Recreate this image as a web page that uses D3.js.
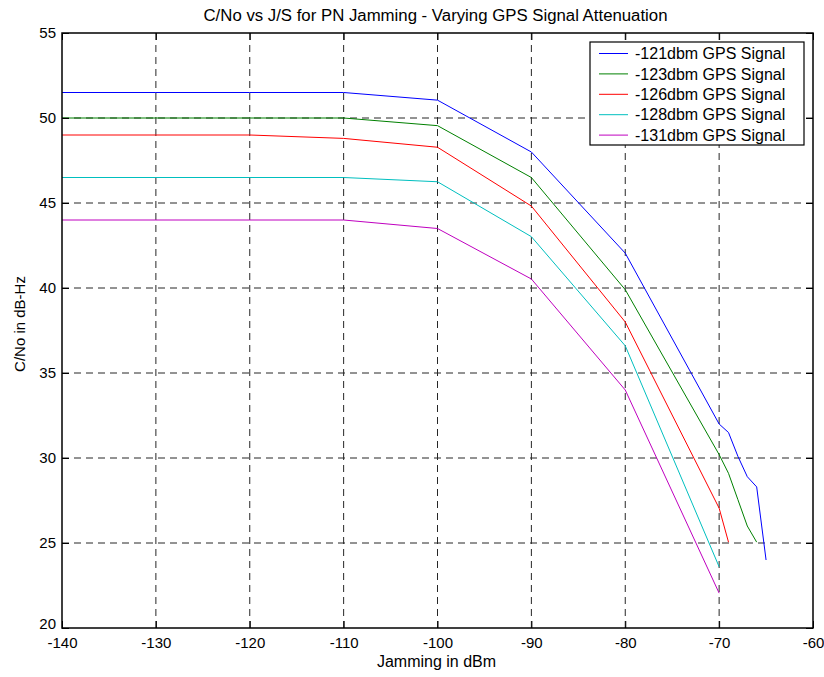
<!DOCTYPE html>
<html>
<head>
<meta charset="utf-8">
<script src="https://cdn.jsdelivr.net/npm/d3@7"></script>
<style>
  body { margin: 0; background: #ffffff; }
  svg { display: block; }
  text { font-family: "Liberation Sans", Arial, sans-serif; fill: #000; }
</style>
</head>
<body>
<svg id="chart" width="824" height="677"></svg>
<script>
// ---- Data ----
const chartTitle = "C/No vs J/S for PN Jamming - Varying GPS Signal Attenuation";
const xLabel = "Jamming in dBm";
const yLabel = "C/No in dB-Hz";
const xTicks = [-140, -130, -120, -110, -100, -90, -80, -70, -60];
const yTicks = [20, 25, 30, 35, 40, 45, 50, 55];

const seriesNames = ["-121dbm GPS Signal", "-123dbm GPS Signal", "-126dbm GPS Signal", "-128dbm GPS Signal", "-131dbm GPS Signal"];
const seriesColors = ["#0000ff", "#008000", "#ff0000", "#00bfbf", "#bf00bf"];

const jam121 = [-140, -130, -120, -110, -100, -90, -80, -70, -69, -68, -67, -66, -65];
const cno121 = [51.5, 51.5, 51.5, 51.5, 51.05, 48.0, 42.05, 32.0, 31.5, 30.1, 28.9, 28.3, 24.0];

const jam123 = [-140, -130, -120, -110, -100, -90, -80, -70, -69, -68, -67, -66];
const cno123 = [50.0, 50.0, 50.0, 50.0, 49.55, 46.5, 39.9, 30.2, 29.1, 27.55, 26.0, 25.05];

const jam126 = [-140, -130, -120, -110, -100, -90, -80, -70, -69];
const cno126 = [49.0, 49.0, 49.0, 48.8, 48.28, 44.82, 38.0, 27.05, 25.05];

const jam128 = [-140, -130, -120, -110, -100, -90, -80, -70];
const cno128 = [46.5, 46.5, 46.5, 46.5, 46.25, 43.02, 36.6, 23.6];

const jam131 = [-140, -130, -120, -110, -100, -90, -80, -70];
const cno131 = [44.0, 44.0, 44.0, 44.0, 43.5, 40.53, 34.0, 22.05];

const seriesX = [jam121, jam123, jam126, jam128, jam131];
const seriesY = [cno121, cno123, cno126, cno128, cno131];

// ---- Layout ----
const svg = d3.select("#chart");
const L = 62, R = 813, T = 33, B = 628;

const x = d3.scaleLinear().domain([-140, -60]).range([L, R]);
const y = d3.scaleLinear().domain([20, 55]).range([B, T]);

// grid
const grid = svg.append("g").attr("class", "grid");
grid.selectAll("line.gx").data(xTicks.slice(1, -1)).enter().append("line")
  .attr("x1", d => x(d)).attr("x2", d => x(d)).attr("y1", T).attr("y2", B)
  .attr("stroke", "#262626").attr("stroke-width", 1).attr("stroke-dasharray", "7,5");
grid.selectAll("line.gy").data(yTicks.slice(1, -1)).enter().append("line")
  .attr("x1", L).attr("x2", R).attr("y1", d => y(d)).attr("y2", d => y(d))
  .attr("stroke", "#262626").attr("stroke-width", 1).attr("stroke-dasharray", "7,5");

// series lines
const line = d3.line().x(d => x(d[0])).y(d => y(d[1]));
seriesX.forEach((xs, i) => {
  const pts = xs.map((v, j) => [v, seriesY[i][j]]);
  svg.append("path").datum(pts).attr("d", line)
    .attr("fill", "none").attr("stroke", seriesColors[i]).attr("stroke-width", 1);
});

// axes (MATLAB style: box with inward ticks)
const tickLen = 7;
const fmt = d => String(d);
const xAxisB = d3.axisBottom(x).tickValues(xTicks).tickSize(-tickLen).tickPadding(9).tickFormat(fmt);
const gxb = svg.append("g").attr("transform", `translate(0,${B})`).call(xAxisB);
const xAxisT = d3.axisTop(x).tickValues(xTicks).tickSize(-tickLen).tickFormat("");
const gxt = svg.append("g").attr("transform", `translate(0,${T})`).call(xAxisT);
const yAxisL = d3.axisLeft(y).tickValues(yTicks).tickSize(-tickLen).tickPadding(6).tickFormat(fmt);
const gyl = svg.append("g").attr("transform", `translate(${L},0)`).call(yAxisL);
const yAxisR = d3.axisRight(y).tickValues(yTicks).tickSize(-tickLen).tickFormat("");
const gyr = svg.append("g").attr("transform", `translate(${R},0)`).call(yAxisR);

[gxb, gxt, gyl, gyr].forEach(g => {
  g.select(".domain").remove();
  g.selectAll(".tick line").attr("stroke", "#000");
  g.selectAll("text").attr("font-family", "Liberation Sans, Arial, sans-serif").attr("font-size", 15).attr("fill", "#000");
});
// nudge the bottom-most y label up slightly so it doesn't collide with "-140"
gyl.selectAll(".tick text").filter(d => d === 20).attr("dy", "0.05em");

svg.append("rect").attr("x", L).attr("y", T).attr("width", R - L).attr("height", B - T)
  .attr("fill", "none").attr("stroke", "#000").attr("stroke-width", 1.5);

// title & labels
svg.append("text").attr("x", (L + R) / 2 - 2).attr("y", 21).attr("text-anchor", "middle")
  .attr("font-size", 16).attr("textLength", 464).attr("lengthAdjust", "spacingAndGlyphs").text(chartTitle);
svg.append("text").attr("x", (L + R) / 2 - 1).attr("y", 667).attr("text-anchor", "middle")
  .attr("font-size", 16).text(xLabel);
svg.append("text").attr("transform", `translate(25,324) rotate(-90)`).attr("text-anchor", "middle")
  .attr("font-size", 15).text(yLabel);

// legend
const lg = svg.append("g");
const lgX = 590, lgY = 42, lgW = 214, lgH = 103;
lg.append("rect").attr("x", lgX).attr("y", lgY).attr("width", lgW).attr("height", lgH)
  .attr("fill", "#fff").attr("stroke", "#000").attr("stroke-width", 1.2);
seriesNames.forEach((name, i) => {
  const cy = 53.5 + i * 20.4;
  lg.append("line").attr("x1", 599).attr("x2", 628).attr("y1", cy).attr("y2", cy)
    .attr("stroke", seriesColors[i]).attr("stroke-width", 1);
  lg.append("text").attr("x", 635).attr("y", cy).attr("dy", "0.35em")
    .attr("font-size", 16).text(name);
});
</script>
</body>
</html>
